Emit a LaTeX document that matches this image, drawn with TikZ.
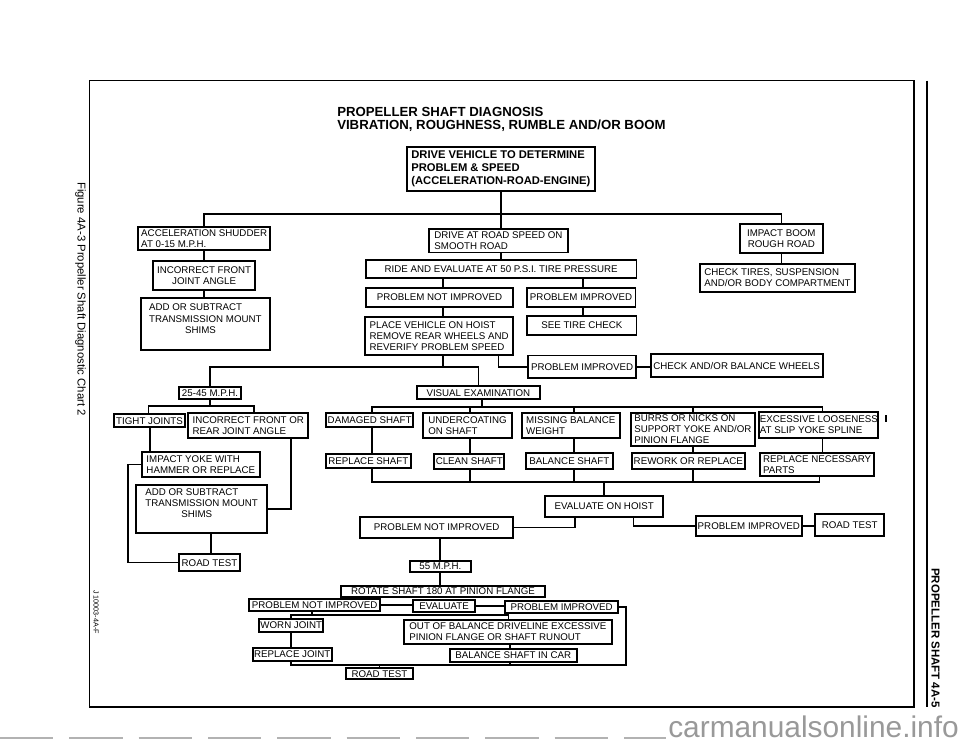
\documentclass[tikz,border=0pt]{standalone}
\usepackage{fontspec}
\setmainfont{Liberation Sans}
\tikzset{
  bx/.style={draw, line width=1.3pt, inner sep=0pt, font=\fontsize{7.3}{8.3}\selectfont},
  cn/.style={line width=1.2pt},
  ttl/.style={font=\fontsize{9.9}{11}\selectfont\bfseries, inner sep=0pt, anchor=base west},
}
\newcommand\mybox[8][]{%
  \pgfmathsetmacro\mbw{(#5-#3)*0.75}%
  \pgfmathsetmacro\mbh{(#6-#4)*0.75}%
  \node[bx, align=#7, minimum width=\mbw pt, minimum height=\mbh pt, #1] (#2) at ({(#3+#5)/2},{(#4+#6)/2}) {#8};}
\begin{document}
\begin{tikzpicture}[x=0.75pt, y=-0.75pt]
\fill[white] (0,0) rectangle (960,742);
\useasboundingbox (0,0) rectangle (960,742);
% frame
\draw[line width=1.2pt] (89.3,80.7) rectangle (914,706.7);
\draw[line width=1.2pt] (926.7,80.7) -- (926.7,706.7);
% titles
\node[ttl] (ti1) at (337,116.9) {PROPELLER SHAFT DIAGNOSIS};
\node[ttl] (ti2) at (337,129.1) {VIBRATION, ROUGHNESS, RUMBLE AND/OR BOOM};
% side texts
\node[rotate=-90, font=\fontsize{8.5}{10}\selectfont] (fig) at (80.5,299) {Figure 4A-3 Propeller Shaft Diagnostic Chart 2};
\node[rotate=-90, font=\fontsize{5.4}{6}\selectfont] (jno) at (96,612) {J 10003-4A-F};
\node[rotate=-90, font=\fontsize{8.6}{10}\selectfont\bfseries] (pg) at (935.5,638) {PROPELLER SHAFT 4A-5};
% boxes
\mybox[font=\fontsize{8.4}{9.75}\selectfont\bfseries]{dv}{406.7}{147.3}{595}{190.7}{left}{DRIVE VEHICLE TO DETERMINE\\PROBLEM \& SPEED\\(ACCELERATION-ROAD-ENGINE)}
\mybox{acc}{138.3}{226.7}{270}{250}{left}{ACCELERATION SHUDDER\\AT 0-15 M.P.H.}
\mybox{ifj}{153.3}{261}{255}{290}{center}{INCORRECT FRONT\\JOINT ANGLE}
\mybox{adda}{140.7}{298.3}{270}{350}{left}{ADD OR SUBTRACT\\TRANSMISSION MOUNT\\\hspace*{27pt}SHIMS\\\mbox{}}
\mybox{dr}{428.8}{229}{568}{252.5}{left}{DRIVE AT ROAD SPEED ON\\SMOOTH ROAD}
\mybox{ib}{740}{224.3}{822.7}{252.7}{center}{IMPACT BOOM\\ROUGH ROAD}
\mybox{ct}{700}{264}{855}{291.7}{left}{CHECK TIRES, SUSPENSION\\AND/OR BODY COMPARTMENT}
\mybox{ride}{365.7}{260}{636.5}{278}{center}{RIDE AND EVALUATE AT 50 P.S.I. TIRE PRESSURE}
\mybox{pnia}{365.7}{288.3}{513.3}{306.7}{center}{PROBLEM NOT IMPROVED}
\mybox{pia}{526.7}{288.3}{635.5}{306.7}{center}{PROBLEM IMPROVED}
\mybox{pv}{365}{316.7}{513.3}{355}{left}{PLACE VEHICLE ON HOIST\\REMOVE REAR WHEELS AND\\REVERIFY PROBLEM SPEED}
\mybox{stc}{527.3}{315.7}{636.5}{335}{center}{SEE TIRE CHECK}
\mybox{pib}{528.3}{355.5}{636}{378}{center}{PROBLEM IMPROVED}
\mybox{cab}{650.7}{354.3}{822.7}{377.3}{center}{CHECK AND/OR BALANCE WHEELS}
\mybox{mph}{179.3}{386.7}{240.7}{399.3}{center}{25-45 M.P.H.}
\mybox{ve}{416.7}{386}{540}{399.3}{center}{VISUAL EXAMINATION}
\mybox{tj}{114}{414}{185}{427.3}{center}{TIGHT JOINTS}
\mybox{ifr}{188.3}{413.3}{308.3}{438.3}{left}{INCORRECT FRONT OR\\REAR JOINT ANGLE}
\mybox{iy}{141.7}{451.7}{260}{477.3}{left}{IMPACT YOKE WITH\\HAMMER OR REPLACE}
\mybox{addb}{136}{485}{267.3}{532.7}{left}{ADD OR SUBTRACT\\TRANSMISSION MOUNT\\\hspace*{27pt}SHIMS\\\mbox{}}
\mybox{rta}{179}{554.3}{240}{571}{center}{ROAD TEST}
\mybox{ds}{326}{413.3}{413.3}{427.3}{center}{DAMAGED SHAFT}
\mybox{uc}{423.3}{412.7}{511.7}{438.3}{left}{UNDERCOATING\\ON SHAFT}
\mybox{mb}{521.7}{413.3}{620}{438.3}{left}{MISSING BALANCE\\WEIGHT}
\mybox{bn}{630.7}{412.7}{755}{446}{left}{BURRS OR NICKS ON\\SUPPORT YOKE AND/OR\\PINION FLANGE}
\mybox{el}{759.3}{411.7}{878.3}{437.7}{left}{EXCESSIVE LOOSENESS\\AT SLIP YOKE SPLINE}
\mybox{rs}{326}{454}{410.7}{468.3}{center}{REPLACE SHAFT}
\mybox{cs}{434.3}{454}{504.3}{469}{center}{CLEAN SHAFT}
\mybox{bs}{526}{453.3}{612.7}{469.3}{center}{BALANCE SHAFT}
\mybox{rr}{631.7}{452.7}{745}{469.3}{center}{REWORK OR REPLACE}
\mybox{rn}{760}{452.7}{874.3}{476}{left}{REPLACE NECESSARY\\PARTS}
\mybox{eh}{545}{496}{663.3}{516.7}{center}{EVALUATE ON HOIST}
\mybox{pnib}{360}{516.7}{513.3}{538.3}{center}{PROBLEM NOT IMPROVED}
\mybox{pic}{696}{515.7}{801.7}{536}{center}{PROBLEM IMPROVED}
\mybox{rtb}{815}{514.3}{884.3}{535.7}{center}{ROAD TEST}
\mybox{mfs}{410}{561}{470.7}{571.7}{center}{55 M.P.H.}
\mybox{rot}{341}{586}{545}{596.7}{center}{ROTATE SHAFT 180 AT PINION FLANGE}
\mybox{pnic}{249.3}{599.3}{380}{610.7}{center}{PROBLEM NOT IMPROVED}
\mybox{ev}{413.3}{600}{475}{611.7}{center}{EVALUATE}
\mybox{pid}{505}{600.7}{618.3}{612.7}{center}{PROBLEM IMPROVED}
\mybox{wj}{259.3}{619.3}{323.3}{631.7}{center}{WORN JOINT}
\mybox{rj}{252.7}{648.3}{331.7}{660.7}{center}{REPLACE JOINT}
\mybox{oob}{404}{620}{611.7}{644}{left}{OUT OF BALANCE DRIVELINE EXCESSIVE\\PINION FLANGE OR SHAFT RUNOUT}
\mybox{bsic}{450}{649}{576.7}{661.7}{center}{BALANCE SHAFT IN CAR}
\mybox{rtc}{346}{668.3}{412.7}{679}{center}{ROAD TEST}
% connectors
\draw[cn] (dv.south) -- (dr.north -| dv.south);
\draw[cn] (acc.north) |- (ib.north |- 0,214) -- (ib.north);
\draw[cn] (ib.south) -- (ct.north -| ib.south);
\draw[cn] (acc.south) -- (ifj.north -| acc.south);
\draw[cn] (ifj.south) -- (adda.north -| ifj.south);
\draw[cn] (dr.south -| dv.south) -- (ride.north -| dv.south);
\draw[cn] (ride.south -| 443,0) -- (pnia.north -| 443,0);
\draw[cn] (ride.south -| 582.7,0) -- (pia.north -| 582.7,0);
\draw[cn] (pnia.south -| 443,0) -- (pv.north -| 443,0);
\draw[cn] (pia.south -| 582.7,0) -- (stc.north -| 582.7,0);
\draw[cn] (pv.south -| 443,0) -- (443,366.7);
\draw[cn] (mph.north) |- (478.3,366.7) -- (ve.north -| 478.3,0);
\draw[cn] (pv.south -| 498.3,0) |- (pib.west);
\draw[cn] (pib.east) -- (pib.east -| cab.west);
\draw[cn] (mph.south) -- (mph.south |- 0,406);
\draw[cn] (tj.north -| 148.3,0) |- (254,406) -- (ifr.north -| 254,0);
\draw[cn] (tj.south -| 150,0) -- (iy.north -| 150,0);
\draw[cn] (iy.west) -- (iy.west -| 127.7,0) |- (rta.west);
\draw[cn] (ifr.south -| 291,0) |- (addb.east);
\draw[cn] (addb.south -| 211,0) -- (rta.north -| 211,0);
\draw[cn] (ve.south -| 481.7,0) -- (481.7,407);
\draw[cn] (ds.north -| 371.7,0) |- (822.3,407) -- (el.north -| 822.3,0);
\draw[cn] (uc.north -| 470,0) -- (470,407);
\draw[cn] (mb.north -| 574,0) -- (574,407);
\draw[cn] (bn.north -| 693,0) -- (693,407);
\draw[cn] (ds.south -| 371.7,0) -- (rs.north -| 371.7,0);
\draw[cn] (uc.south -| 470,0) -- (cs.north -| 470,0);
\draw[cn] (mb.south -| 574,0) -- (bs.north -| 574,0);
\draw[cn] (bn.south -| 693,0) -- (rr.north -| 693,0);
\draw[cn] (el.south -| 822.3,0) -- (rn.north -| 822.3,0);
\draw[cn] (rs.south -| 371.7,0) |- (819.3,481.7) -- (rn.south -| 819.3,0);
\draw[cn] (cs.south -| 470,0) -- (470,481.7);
\draw[cn] (bs.south -| 574,0) -- (574,481.7);
\draw[cn] (rr.south -| 693,0) -- (693,481.7);
\draw[cn] (eh.north) -- (eh.north |- 0,481.7);
\draw[cn] (eh.south -| 575,0) |- (pnib.east);
\draw[cn] (eh.south -| 633.3,0) |- (pic.west);
\draw[cn] (pic.east) -- (pic.east -| rtb.west);
\draw[cn] (pnib.south -| 440,0) -- (mfs.north -| 440,0);
\draw[cn] (mfs.south -| 440,0) -- (rot.north -| 440,0);
\draw[cn] (pnic.east) -- (pnic.east -| ev.west);
\draw[cn] (ev.east) -- (ev.east -| pid.west);
\draw[cn] (pid.east) -- (pid.east -| 625.7,0) |- (291,665) -- (rj.south -| 291,0);
\draw[cn] (pnic.south -| 311.7,0) -- (311.7,615);
\draw[cn] (wj.north -| 291,0) |- (508.3,615) -- (oob.north -| 508.3,0);
\draw[cn] (wj.south -| 291,0) -- (rj.north -| 291,0);
\draw[cn] (oob.south -| 510,0) -- (bsic.north -| 510,0);
\draw[cn] (bsic.south -| 510,0) -- (510,665);
\draw[cn] (rtc.north) -- (rtc.north |- 0,665);
\draw[line width=0.8pt] (886,415) -- (886,422);
% bottom scan marks and watermark
\draw[black!30, line width=1.2pt, dash pattern=on 40pt off 12pt] (0,738) -- (666,738);
\node[anchor=base west, inner sep=0pt, font=\fontsize{22.4}{26}\selectfont, text=black!40] (wm) at (668,737) {carmanualsonline.info};
\end{tikzpicture}
\end{document}
